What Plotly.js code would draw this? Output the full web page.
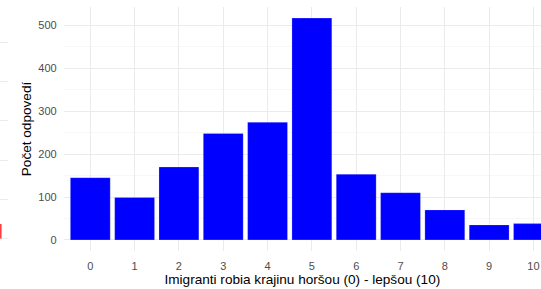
<!DOCTYPE html>
<html>
<head>
<meta charset="utf-8">
<script src="https://cdn.plot.ly/plotly-3.0.1.min.js"></script>
<style>html,body{margin:0;padding:0;background:#fff;}#chart{width:541px;height:289px;}</style>
</head>
<body>
<div id="chart"></div>
<script>
// Main panel data
const categories = ['0','1','2','3','4','5','6','7','8','9','10'];
const counts = [145, 99, 170, 248, 274, 517, 153, 110, 70, 35, 38];
const xTitle = 'Imigranti robia krajinu horšou (0) - lepšou (10)';
const yTitle = 'Počet odpovedí';
// Clipped neighbouring panel (left edge)
const sideCategories = [0];
const sideValues = [0.37];

const W = 541, H = 289;
const plotLeft = 63.7, plotTop = 6.6, plotBottom = 251;

const traces = [
  {
    type: 'bar', x: categories.map(Number), y: counts,
    marker: {color: '#0000FF', line: {color: 'rgba(255,255,255,0.35)', width: 0.6}},
    width: 0.9, hoverinfo: 'skip', xaxis: 'x', yaxis: 'y'
  },
  {
    type: 'bar', x: sideCategories, y: sideValues,
    marker: {color: '#FF4040'}, width: 0.4, hoverinfo: 'skip', xaxis: 'x2', yaxis: 'y2'
  }
];

const layout = {
  width: W, height: H,
  margin: {l: 0, r: 0, t: plotTop, b: H - plotBottom},
  paper_bgcolor: '#fff', plot_bgcolor: '#fff',
  showlegend: false,
  font: {family: 'Liberation Sans, Arial, sans-serif', color: '#4D4D4D', size: 11},
  xaxis: {
    domain: [plotLeft / W, 1],
    range: [-0.6, 10.17],
    tickmode: 'array', tickvals: categories.map(Number), ticktext: categories,
    showgrid: true, gridcolor: '#EBEBEB', gridwidth: 1,
    zeroline: false, showline: false, ticks: '',
    ticklabelstandoff: 7,
    tickfont: {size: 11, color: '#4D4D4D'},
    title: {text: xTitle, font: {size: 13.6, color: '#000'}, standoff: 3},
    automargin: false
  },
  yaxis: {
    anchor: 'x',
    range: [-25.85, 542.85],
    tickvals: [0, 100, 200, 300, 400, 500],
    showgrid: true, gridcolor: '#EBEBEB', gridwidth: 1,
    minor: {tickvals: [50, 150, 250, 350, 450], showgrid: true, gridcolor: '#F3F3F3', gridwidth: 0.7, ticks: ''},
    zeroline: false, showline: false, ticks: '',
    ticklabelstandoff: 6,
    tickfont: {size: 11, color: '#4D4D4D'},
    title: {text: yTitle, font: {size: 13.6, color: '#000'}, standoff: 3},
    automargin: false
  },
  xaxis2: {
    domain: [0, 8 / W], range: [0, 1], anchor: 'y2',
    showgrid: false, zeroline: false, showticklabels: false, ticks: '', showline: false
  },
  yaxis2: {
    anchor: 'x2', range: [-0.318, 5.9], dtick: 1,
    showgrid: true, gridcolor: '#EBEBEB', gridwidth: 1,
    zeroline: false, showticklabels: false, ticks: '', showline: false
  },
  bargap: 0.1
};

Plotly.newPlot('chart', traces, layout, {staticPlot: true, displayModeBar: false});
</script>
</body>
</html>
